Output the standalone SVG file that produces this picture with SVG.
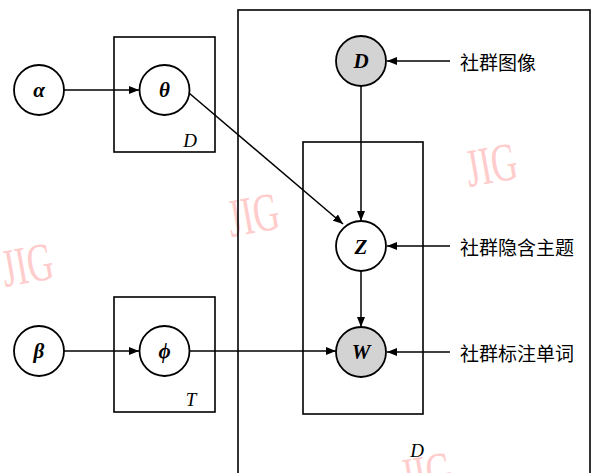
<svg xmlns="http://www.w3.org/2000/svg" width="597" height="473" viewBox="0 0 597 473">
<style>
.plate{fill:none;stroke:#000;stroke-width:1.6}
.node{fill:#fff;stroke:#000;stroke-width:1.8}
.obs{fill:#d3d3d3;stroke:#000;stroke-width:1.8}
.edge{fill:none;stroke:#000;stroke-width:1.5}
.sym{font-family:"Liberation Serif","DejaVu Serif",serif;font-style:italic;font-weight:bold;font-size:21px;text-anchor:middle;dominant-baseline:central}
.lbl{font-family:"Liberation Serif","DejaVu Serif",serif;font-style:italic;font-size:19px;text-anchor:middle}
.cn{font-family:"Noto Sans CJK SC","Noto Sans",sans-serif;font-size:19px;dominant-baseline:central}
.wm{font-family:"Liberation Serif",serif;font-size:54px;fill:#ffcccc}
</style>
<defs>
<marker id="ah" viewBox="0 0 10 8" refX="10" refY="4" markerWidth="10" markerHeight="8" markerUnits="userSpaceOnUse" orient="auto">
<path d="M0,0 L10,4 L0,8 z" fill="#000"/>
</marker>
</defs>
<g id="watermarks">
<text class="wm" transform="translate(231,237) rotate(-10) scale(0.66,1)">JIG</text>
<text class="wm" transform="translate(469,187) rotate(-10) scale(0.66,1)">JIG</text>
<text class="wm" transform="translate(5,287) rotate(-10) scale(0.66,1)">JIG</text>
<text class="wm" transform="translate(404,496) rotate(-10) scale(0.66,1)">JIG</text>
</g>
<g id="plates">
<rect id="plate-theta" class="plate" x="114" y="37" width="101" height="115"/>
<text class="lbl" x="190" y="147">D</text>
<rect id="plate-phi" class="plate" x="114" y="297" width="101" height="115"/>
<text class="lbl" x="191" y="406">T</text>
<rect id="plate-outer" class="plate" x="238" y="10" width="352" height="475"/>
<text class="lbl" x="417" y="457">D</text>
<rect id="plate-inner" class="plate" x="303" y="142" width="120" height="272"/>
</g>
<g id="connectors">
<line class="edge" x1="64" y1="90" x2="139" y2="90" marker-end="url(#ah)"/>
<line class="edge" x1="189" y1="93" x2="343" y2="224" marker-end="url(#ah)"/>
<line class="edge" x1="361" y1="86" x2="361" y2="221" marker-end="url(#ah)"/>
<line class="edge" x1="361" y1="271" x2="361" y2="327" marker-end="url(#ah)"/>
<line class="edge" x1="64" y1="351" x2="139" y2="351" marker-end="url(#ah)"/>
<line class="edge" x1="190" y1="351" x2="336" y2="351" marker-end="url(#ah)"/>
<line class="edge" x1="450" y1="61" x2="387" y2="61" marker-end="url(#ah)"/>
<line class="edge" x1="450" y1="246" x2="387" y2="246" marker-end="url(#ah)"/>
<line class="edge" x1="450" y1="352" x2="387" y2="352" marker-end="url(#ah)"/>
</g>
<g id="node-alpha"><circle class="node" cx="39" cy="90" r="25"/><text class="sym" x="39" y="90" font-weight="normal" font-size="24">α</text></g>
<g id="node-theta"><circle class="node" cx="164.5" cy="90" r="25"/><text class="sym" x="164.5" y="90">θ</text></g>
<g id="node-beta"><circle class="node" cx="39" cy="351" r="25"/><text class="sym" x="39" y="351" font-weight="normal" font-size="24">β</text></g>
<g id="node-phi"><circle class="node" cx="164.5" cy="351" r="25"/><text class="sym" x="164.5" y="351">ϕ</text></g>
<g id="node-D"><circle class="obs" cx="361" cy="61" r="25"/><text class="sym" x="361" y="61">D</text></g>
<g id="node-Z"><circle class="node" cx="361" cy="246" r="25"/><text class="sym" x="361" y="247" font-size="17">Z</text></g>
<g id="node-W"><circle class="obs" cx="361" cy="352" r="25"/><text class="sym" x="361" y="352">W</text></g>
<g id="labels">
<text class="cn" x="460" y="61">社群图像</text>
<text class="cn" x="460" y="246">社群隐含主题</text>
<text class="cn" x="460" y="352">社群标注单词</text>
</g>
</svg>
